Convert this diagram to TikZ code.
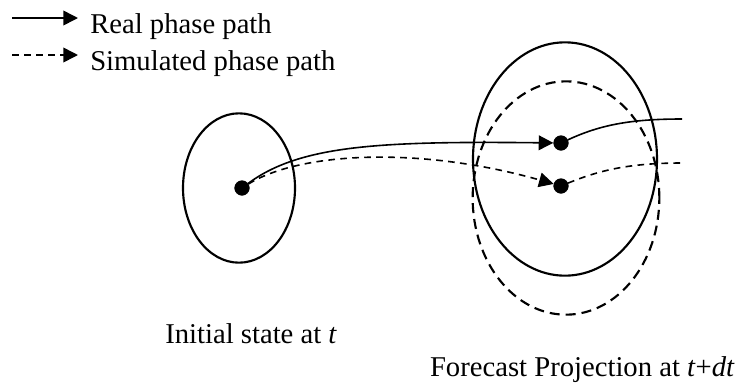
\documentclass[tikz,border=0pt]{standalone}
\usepackage{fontspec}
\setmainfont{Liberation Serif}
\usepackage{tikz}
\usetikzlibrary{shapes.geometric,arrows.meta,positioning,calc}
\tikzset{
  state_ell/.style={
    draw, ellipse, line width=1.6pt, inner sep=0pt
  },
  sim_ell/.style={
    state_ell, dash pattern=on 7.5pt off 4.5pt
  },
  phase_dot/.style={
    draw, circle, fill=black, minimum size=11pt, inner sep=0pt
  },
  real_arr/.style={-{Triangle[length=11pt,width=11pt]}, line width=1.2pt},
  sim_arr/.style={-{Triangle[length=11pt,width=11pt]}, line width=1.2pt, dash pattern=on 5pt off 4pt},
  real_line/.style={line width=1.2pt},
  sim_line/.style={line width=1.2pt, dash pattern=on 5pt off 4pt},
  lbl/.style={font=\fontsize{21.5}{26}\selectfont, inner sep=0pt, anchor=base west},
}

\begin{document}
\begin{tikzpicture}[x=0.75pt, y=-0.75pt]
\useasboundingbox (0,0) rectangle (743,387);

% Legend
\node[lbl] (legReal) at (90,33) {Real phase path};
\node[lbl] (legSim)  at (90,70) {Simulated phase path};
\coordinate (legRealA) at (12,18);
\coordinate (legRealB) at (78,18);
\coordinate (legSimA)  at (12,55);
\coordinate (legSimB)  at (78,55);
\draw[real_arr] (legRealA) -- (legRealB);
\draw[sim_arr]  (legSimA)  -- (legSimB);

% State regions
\node[state_ell, minimum width=84pt, minimum height=112pt] (init) at (239,188) {};
\node[state_ell, minimum width=138pt, minimum height=175pt] (fcReal) at (565,159) {};
\node[sim_ell,   minimum width=140pt, minimum height=175pt] (fcSim)  at (566,198) {};

% Phase points
\node[phase_dot] (dot0)    at (242,188) {};
\node[phase_dot] (dotReal) at (561,143) {};
\node[phase_dot] (dotSim)  at (561,186) {};

% Free ends
\coordinate (realEnd) at (682,119);
\coordinate (simEnd)  at (682,163);

% Paths
\draw[real_arr] (dot0) .. controls (300,145) and (380,141) .. (dotReal);
\draw[sim_arr]  (dot0) .. controls (300,152) and (420,146) .. (dotSim);
\draw[real_line] (dotReal) .. controls (600,125) and (630,119) .. (realEnd);
\draw[sim_line]  (dotSim)  .. controls (600,170) and (630,163) .. (simEnd);

% Labels
\node[lbl] (initLbl) at (165,343) {Initial state at \textit{t}};
\node[lbl, anchor=base east] (fcLbl) at (735,376) {Forecast Projection at \textit{t}+\textit{dt}};

\end{tikzpicture}
\end{document}
